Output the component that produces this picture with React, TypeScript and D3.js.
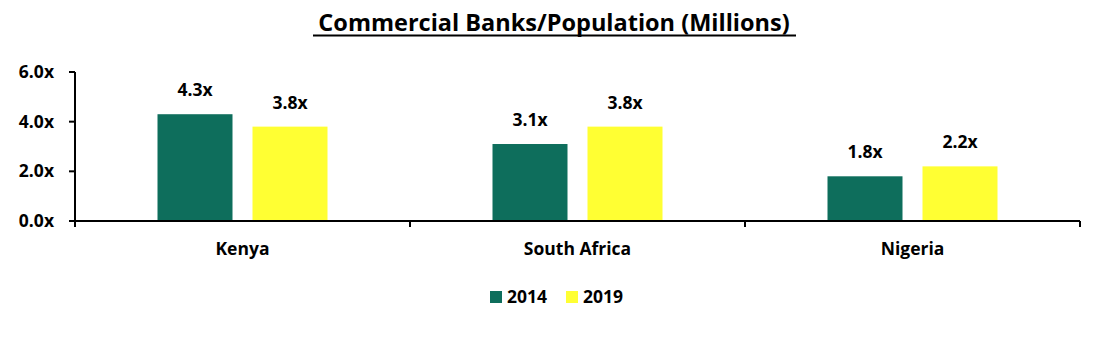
import React from "react";
import * as d3 from "d3";

const categories = ["Kenya", "South Africa", "Nigeria"];
const seriesNames = ["2014", "2019"];
const values2014 = [4.3, 3.1, 1.8];
const values2019 = [3.8, 3.8, 2.2];
const yTicks = [0, 2, 4, 6];
const colors = ["#0E6E5C", "#FFFF33"];

const W = 1098;
const H = 356;
const FONT = "'Open Sans', Lato, sans-serif";

export default function App() {
  const left = 75;
  const right = 1080;
  const top = 72;
  const bottom = 221;
  const x = d3.scaleBand<string>().domain(categories).range([left, right]);
  const y = d3.scaleLinear().domain([0, 6]).range([bottom, top]);
  const inner = d3.scaleBand<string>().domain(seriesNames).range([-85, 85]).paddingInner(0.2105).paddingOuter(0);
  const series = [values2014, values2019];

  const boundaries = [...categories.map((c) => x(c)!), right];

  return (
    <svg width={W} height={H} style={{ display: "block", position: "absolute", left: 0, top: 0 }} fontFamily={FONT}>
      <rect width={W} height={H} fill="#fff" />
      <text x={554} y={31} textAnchor="middle" fontSize={23.5} fontWeight={700} fill="#000">
        Commercial Banks/Population (Millions)
      </text>
      <line x1={313} x2={796} y1={35.5} y2={35.5} stroke="#000" strokeWidth={2} />

      {series.map((vals, si) =>
        categories.map((c, ci) => {
          const cx = x(c)! + x.bandwidth() / 2;
          const bx = cx + inner(seriesNames[si])!;
          const bw = inner.bandwidth();
          return (
            <g key={`${si}-${ci}`}>
              <rect x={bx} y={y(vals[ci])} width={bw} height={bottom - y(vals[ci])} fill={colors[si]} />
              <text x={bx + bw / 2} y={y(vals[ci]) - 18} textAnchor="middle" fontSize={17.5} fontWeight={700} fill="#000">
                {vals[ci].toFixed(1)}x
              </text>
            </g>
          );
        })
      )}

      {/* y axis */}
      <line x1={left} x2={left} y1={top} y2={bottom} stroke="#000" strokeWidth={2} />
      {yTicks.map((t) => (
        <g key={t}>
          <line x1={left - 6} x2={left} y1={y(t)} y2={y(t)} stroke="#000" strokeWidth={2} />
          <text x={54} y={y(t) + 6} textAnchor="end" fontSize={17.5} fontWeight={700} fill="#000">
            {t.toFixed(1)}x
          </text>
        </g>
      ))}

      {/* x axis */}
      <line x1={left} x2={right} y1={bottom} y2={bottom} stroke="#000" strokeWidth={2} />
      {boundaries.map((b, i) => (
        <line key={i} x1={b} x2={b} y1={bottom} y2={bottom + 6} stroke="#000" strokeWidth={2} />
      ))}
      {categories.map((c) => (
        <text key={c} x={x(c)! + x.bandwidth() / 2} y={255} textAnchor="middle" fontSize={17.5} fontWeight={700} fill="#000">
          {c}
        </text>
      ))}

      {/* legend */}
      {seriesNames.map((s, i) => (
        <g key={s} transform={`translate(${490 + i * 76},0)`}>
          <rect x={0} y={291} width={12} height={12} fill={colors[i]} />
          <text x={17} y={303} fontSize={17.5} fontWeight={700} fill="#000">
            {s}
          </text>
        </g>
      ))}
    </svg>
  );
}
